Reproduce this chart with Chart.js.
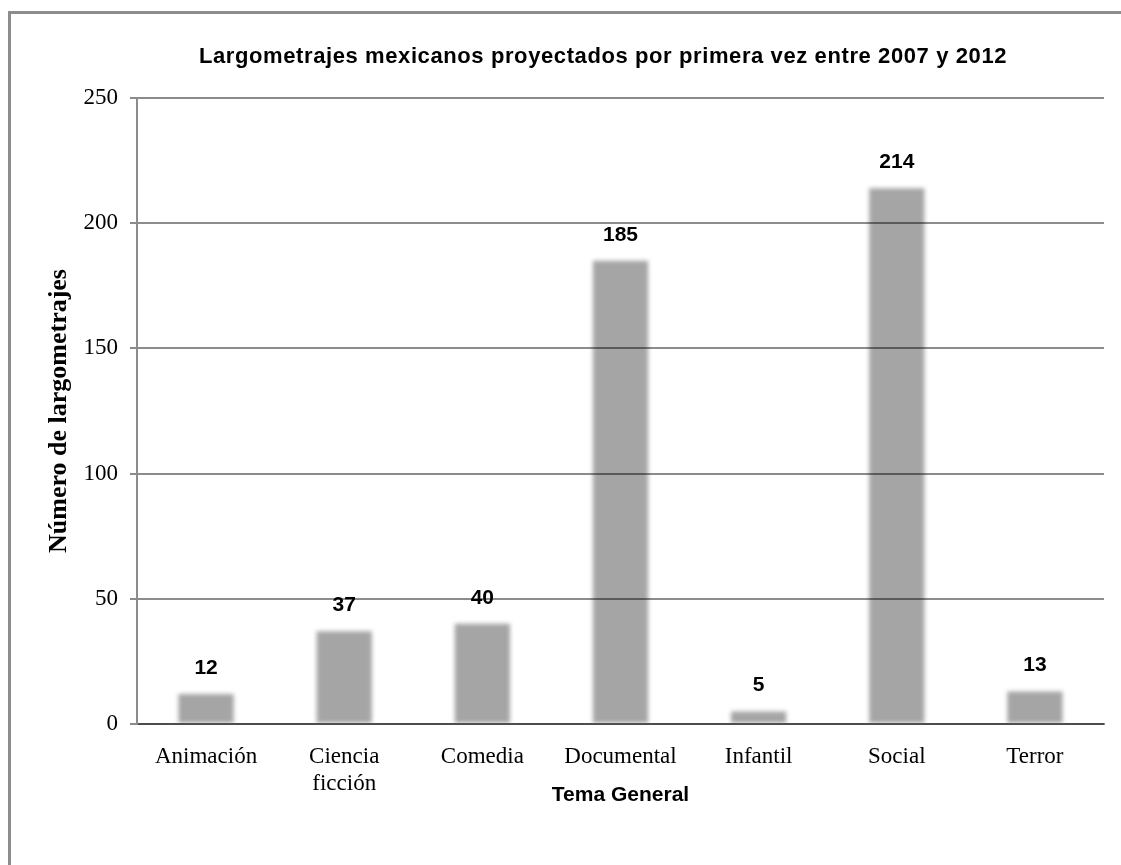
<!DOCTYPE html>
<html>
<head>
<meta charset="utf-8">
<script src="https://cdn.jsdelivr.net/npm/chart.js@4/dist/chart.umd.min.js"></script>
<style>
  html, body { margin: 0; padding: 0; background: #fff; overflow: hidden; }
  #frame { position: absolute; left: 8px; top: 11px; width: 1200px; height: 1000px; border: 3px solid #8c8c8c; }
  #wrap { position: absolute; left: 0; top: 0; width: 1121px; height: 865px; }
</style>
</head>
<body>
<div id="frame"></div>
<div id="wrap"><canvas id="bar_chart"></canvas></div>
<script>
// data
const temas = ["Animación", ["Ciencia", "ficción"], "Comedia", "Documental", "Infantil", "Social", "Terror"];
const largometrajes = [12, 37, 40, 185, 5, 214, 13];
const y_ticks = [0, 50, 100, 150, 200, 250];

const chart_title = "Largometrajes mexicanos proyectados por primera vez entre 2007 y 2012";
const x_title = "Tema General";
const y_title = "Número de largometrajes";

const serif = "'Liberation Serif', 'Times New Roman', serif";
const sans = "'Liberation Sans', Arial, sans-serif";

const ctx = document.getElementById("bar_chart").getContext("2d");

// soft edges on the bars + value labels
const blurBars = {
	id: "blurBars",
	beforeDatasetsDraw(chart) {
		chart.ctx.save();
		chart.ctx.filter = "blur(2px)";
	},
	afterDatasetsDraw(chart) {
		chart.ctx.restore();
		const c = chart.ctx;
		c.save();
		c.font = "bold 21px " + sans;
		c.fillStyle = "#000";
		c.textAlign = "center";
		c.textBaseline = "middle";
		chart.getDatasetMeta(0).data.forEach((bar, i) => {
			c.fillText(largometrajes[i], bar.x, bar.y - 26);
		});
		c.restore();
	}
};

const mainTitle = {
	id: "mainTitle",
	afterDraw(chart) {
		const c = chart.ctx;
		c.save();
		c.font = "bold 22px " + sans;
		c.letterSpacing = "0.6px";
		c.fillStyle = "#000";
		c.textAlign = "center";
		c.textBaseline = "middle";
		c.fillText(chart_title, 603, 57);
		c.restore();
	}
};

const myChart = new Chart(ctx, {
	type: "bar",
	data: {
		labels: temas,
		datasets: [{
			data: largometrajes,
			backgroundColor: "#a5a5a5",
			borderWidth: 0,
			categoryPercentage: 1,
			barPercentage: 0.4
		}]
	},
	options: {
		responsive: true,
		maintainAspectRatio: false,
		animation: false,
		layout: { padding: { top: 98, left: 40, right: 17, bottom: 50 } },
		plugins: {
			legend: { display: false },
			tooltip: { enabled: false }
		},
		scales: {
			x: {
				grid: { display: false, drawTicks: false },
				border: { display: true, color: "#8c8c8c", width: 2 },
				ticks: { color: "#000", font: { family: serif, size: 23 }, padding: 19, maxRotation: 0 },
				title: { display: true, text: x_title, color: "#000", font: { family: sans, size: 21, weight: "bold" }, padding: { top: 0, bottom: 7 } },
				afterFit(scale) { scale.height = 91; }
			},
			y: {
				min: 0,
				max: 250,
				afterBuildTicks(scale) { scale.ticks = y_ticks.map(v => ({ value: v })); },
				grid: { color: "rgba(0,0,0,0.45)", lineWidth: 2, tickLength: 7, z: 1 },
				border: { display: true, color: "#8c8c8c", width: 2, z: 1 },
				ticks: { color: "#000", font: { family: serif, size: 23 }, padding: 12 },
				title: { display: true, text: y_title, color: "#000", font: { family: serif, size: 26, weight: "bold" }, padding: { top: 4, bottom: 0 } },
				afterFit(scale) { scale.width = 97; }
			}
		}
	},
	plugins: [blurBars, mainTitle]
});
</script>
</body>
</html>
